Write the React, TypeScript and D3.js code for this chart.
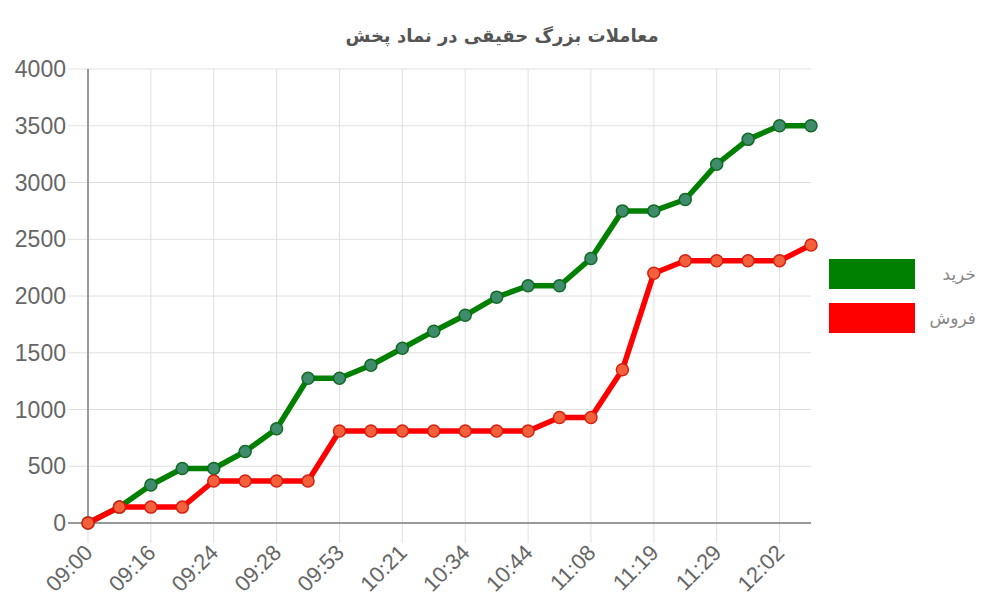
import React from "react";
import * as d3 from "d3";

const times = [
  "09:00", "09:10", "09:16", "09:20", "09:24", "09:26", "09:28", "09:40",
  "09:53", "10:05", "10:21", "10:28", "10:34", "10:40", "10:44", "10:55",
  "11:08", "11:14", "11:19", "11:24", "11:29", "11:45", "12:02", "12:10",
];
const buyValues = [
  0, 140, 335, 480, 480, 630, 830, 1275, 1275, 1390, 1540, 1690,
  1830, 1990, 2090, 2090, 2330, 2750, 2750, 2850, 3160, 3380, 3500, 3500,
];
const sellValues = [
  0, 140, 140, 140, 370, 370, 370, 370, 810, 810, 810, 810,
  810, 810, 810, 930, 930, 1350, 2200, 2310, 2310, 2310, 2310, 2450,
];
const yTicks = [0, 500, 1000, 1500, 2000, 2500, 3000, 3500, 4000];
const title = "معاملات بزرگ حقیقی در نماد پخش";
const seriesNames = ["خرید", "فروش"];

export default function App() {
  const left = 88, right = 811, top = 69, bottom = 523;
  const x = d3.scalePoint<string>().domain(times).range([left, right]);
  const y = d3.scaleLinear().domain([0, 4000]).range([bottom, top]);
  const line = d3.line<number>().x((_, i) => x(times[i])!).y((d) => y(d));

  const series = [
    { name: seriesNames[0], values: buyValues, color: "#008000", pFill: "#3f8c6c", pStroke: "#0f6a22" },
    { name: seriesNames[1], values: sellValues, color: "#ff0000", pFill: "#f4603c", pStroke: "#d42010" },
  ];
  const labeled = times.filter((_, i) => i % 2 === 0);
  const font = "'Liberation Sans', Arial, sans-serif";

  return (
    <svg width={1000} height={600} style={{ position: "absolute", left: 0, top: 0, background: "#fff" }}>
      <text x={502} y={42} textAnchor="middle" fontSize={18} fill="#555" fontFamily="'DejaVu Sans', sans-serif" fontWeight="bold">
        {title}
      </text>
      {yTicks.map((t) => (
        <g key={t}>
          <line x1={68} x2={right} y1={y(t)} y2={y(t)} stroke="#e0e0e0" strokeWidth={1} />
          <text x={66} y={y(t)} dy="0.35em" textAnchor="end" fontSize={23} fill="#666" fontFamily={font}>
            {t}
          </text>
        </g>
      ))}
      {labeled.map((t) => (
        <g key={t}>
          <line x1={x(t)!} x2={x(t)!} y1={top} y2={bottom + 20} stroke="#e0e0e0" strokeWidth={1} />
          <text
            transform={`translate(${x(t)! + 6},${bottom + 31}) rotate(-45)`}
            textAnchor="end"
            fontSize={22}
            fill="#666"
            fontFamily={font}
          >
            {t}
          </text>
        </g>
      ))}
      <line x1={left} x2={left} y1={top} y2={bottom} stroke="#999" strokeWidth={2} />
      <line x1={68} x2={right} y1={bottom} y2={bottom} stroke="#999" strokeWidth={2} />
      {series.map((s) => (
        <g key={s.name}>
          <path d={line(s.values)!} fill="none" stroke={s.color} strokeWidth={5.5} strokeLinejoin="round" />
          {s.values.map((v, i) => (
            <circle key={i} cx={x(times[i])!} cy={y(v)} r={6} fill={s.pFill} stroke={s.pStroke} strokeWidth={1.5} />
          ))}
        </g>
      ))}
      {series.map((s, i) => (
        <g key={"lg" + s.name}>
          <rect x={829} y={259 + i * 44} width={86} height={30} fill={s.color} />
          <text x={976} y={274 + i * 44} dy="0.35em" textAnchor="end" fontSize={17} fill="#888" fontFamily="'DejaVu Sans', sans-serif" letterSpacing={3}>
            {s.name}
          </text>
        </g>
      ))}
    </svg>
  );
}
